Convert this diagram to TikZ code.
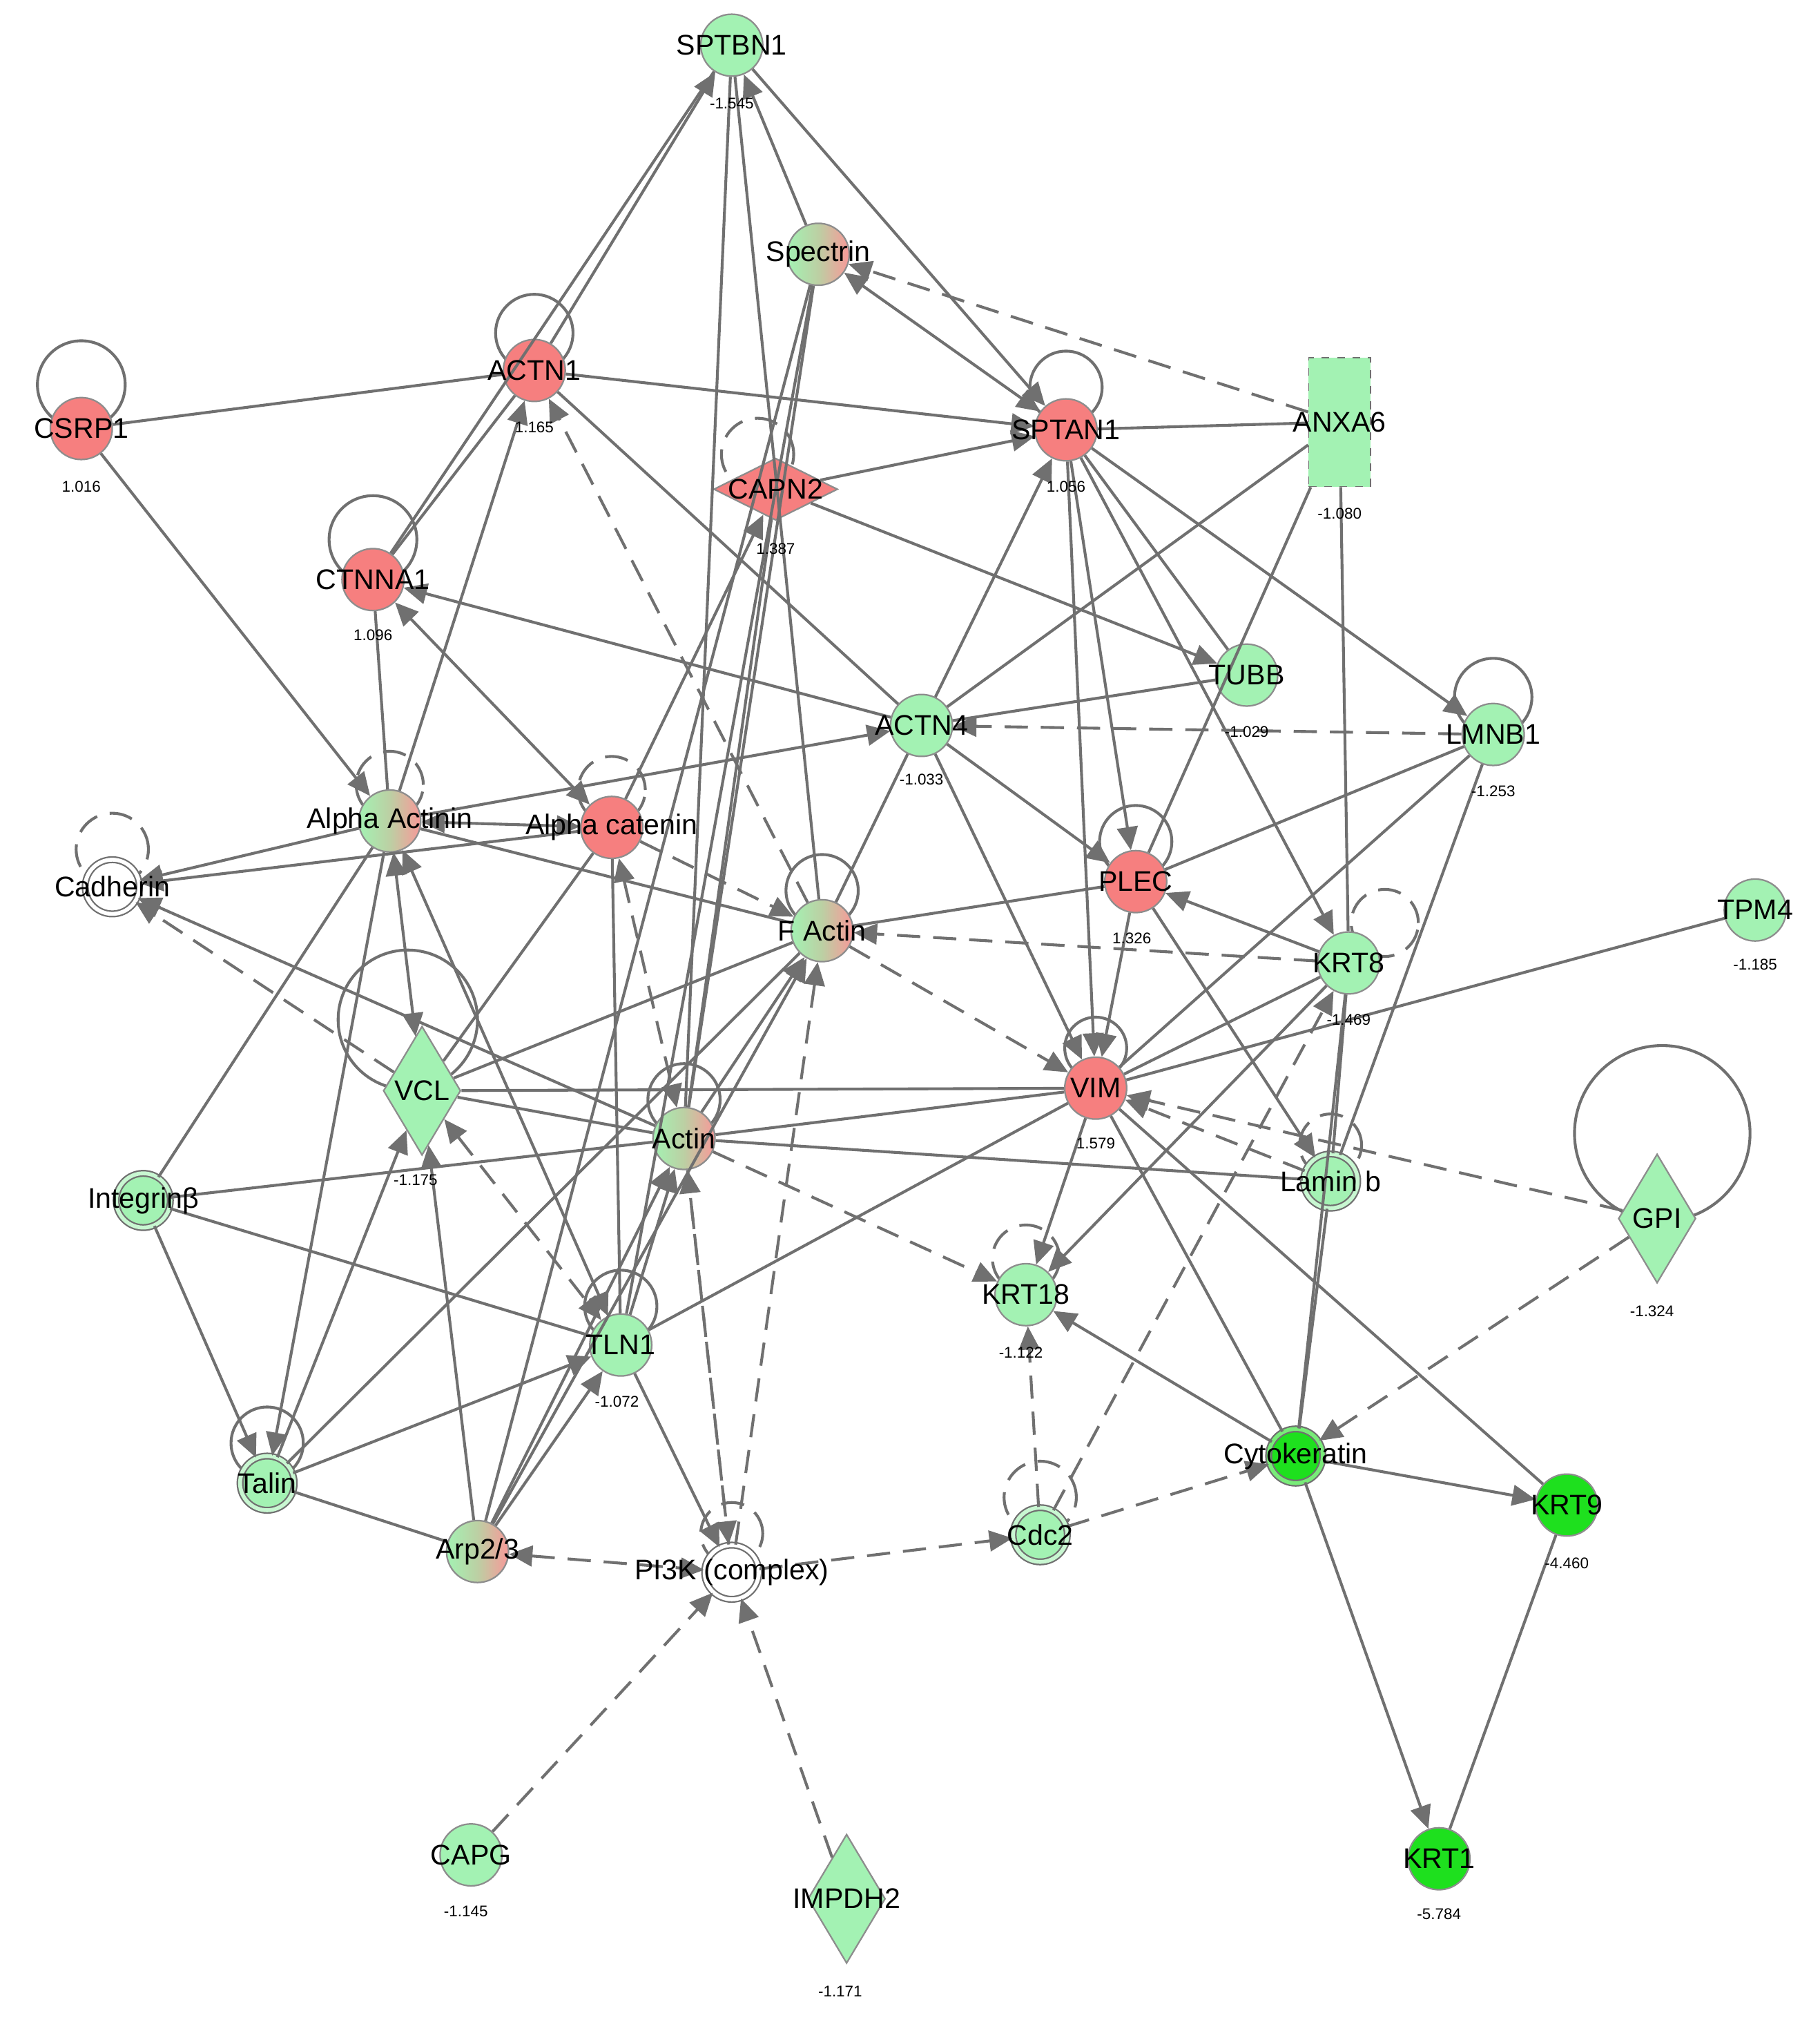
\documentclass[tikz,border=0pt]{standalone}
\usepackage{fontspec}
\setmainfont{Liberation Sans}
\usetikzlibrary{arrows.meta,shapes.geometric}
\definecolor{lg}{HTML}{A3F2B3}
\definecolor{rd}{HTML}{F67F7F}
\definecolor{bg}{HTML}{1EE01E}
\definecolor{ln}{HTML}{707070}
\tikzset{
 x=0.5pt,y=-0.5pt,
 base/.style={circle,draw=ln!80,line width=0.6pt,minimum size=24pt,inner sep=0pt},
 gn/.style={base,fill=lg},
 rn/.style={base,fill=rd},
 bn/.style={base,fill=bg},
 mx/.style={base,left color=lg,right color=rd!80,middle color=lg!70!rd},
 wn/.style={base,fill=white,double=white,draw=ln,double distance=1.5pt,minimum size=21pt},
 gd/.style={wn,fill=lg,double=lg!60!white},
 bd/.style={wn,fill=bg,double=bg!60!white},
 dia/.style={diamond,draw=ln!80,line width=0.6pt,inner sep=0pt,minimum width=30pt,minimum height=50pt,aspect=0.6},
 lab/.style={font=\fontsize{11}{11}\selectfont,inner sep=0pt},
 val/.style={font=\fontsize{6}{6}\selectfont,inner sep=0pt},
 e/.style={draw=ln,line width=1.1pt},
 ea/.style={e,-{Triangle[length=9pt,width=8pt]}},
 eb/.style={e,{Triangle[length=9pt,width=8pt]}-{Triangle[length=9pt,width=8pt]}},
 ed/.style={e,dash pattern=on 9pt off 5pt},
 eda/.style={ed,-{Triangle[length=9pt,width=8pt]}},
 edb/.style={ed,{Triangle[length=9pt,width=8pt]}-{Triangle[length=9pt,width=8pt]}},
}
\begin{document}
\begin{tikzpicture}
\useasboundingbox[fill=white] (0,0) rectangle (1410,1575);
% self loops
\foreach \x/\y/\r/\st in {63/298/17/e,414/258/15/e,289/418/17/e,826/300/14/e,587/352/14/ed,
 1157/540/15/e,302/608/13/ed,474/612/13/ed,87/658/14/ed,880/652/14/e,637/690/14/e,
 1073/715/13/ed,316/790/27/e,849/812/12/e,530/852/14/e,1031/887/12/ed,1288/878/34/e,
 795/975/13/ed,481/1012/14/e,207/1118/14/e,567/1188/12/ed,806/1160/14/ed}{
 \draw[\st] (\x,\y) circle[radius=\r pt];}
% nodes
\node[gn] (SPTBN1) at (567,35) {};
\node[mx] (Spectrin) at (634,197) {};
\node[rn] (ACTN1) at (414,287) {};
\node[rn] (CSRP1) at (63,332) {};
\node[rn] (SPTAN1) at (826,333) {};
\node[rectangle,draw=ln,dashed,fill=lg,minimum width=24pt,minimum height=50pt,inner sep=0pt] (ANXA6) at (1038,327) {};
\node[dia,fill=rd,minimum width=48pt,minimum height=24pt,aspect=2] (CAPN2) at (601,379) {};
\node[rn] (CTNNA1) at (289,449) {};
\node[gn] (TUBB) at (966,523) {};
\node[gn] (ACTN4) at (714,562) {};
\node[gn] (LMNB1) at (1157,569) {};
\node[mx] (AA) at (302,636) {};
\node[rn] (AC) at (474,641) {};
\node[wn] (Cadherin) at (87,687) {};
\node[rn] (PLEC) at (880,683) {};
\node[mx] (FActin) at (637,721) {};
\node[gn] (TPM4) at (1360,705) {};
\node[gn] (KRT8) at (1045,746) {};
\node[dia,fill=lg] (VCL) at (327,845) {};
\node[rn] (VIM) at (849,843) {};
\node[mx] (Actin) at (530,882) {};
\node[gd] (Integrin) at (111,930) {};
\node[gd] (Laminb) at (1031,915) {};
\node[dia,fill=lg] (GPI) at (1284,944) {};
\node[gn] (KRT18) at (795,1003) {};
\node[gn] (TLN1) at (481,1042) {};
\node[gd] (Talin) at (207,1149) {};
\node[bd] (Cytokeratin) at (1004,1128) {};
\node[bn] (KRT9) at (1214,1166) {};
\node[mx] (Arp) at (370,1202) {};
\node[wn] (PI3K) at (567,1218) {};
\node[gd] (Cdc2) at (806,1189) {};
\node[gn] (CAPG) at (365,1437) {};
\node[dia,fill=lg] (IMPDH2) at (656,1471) {};
\node[bn] (KRT1) at (1115,1440) {};
% edges
\foreach \a/\b/\st in {
 CSRP1/ACTN1/e, CSRP1/AA/ea, ACTN1/SPTBN1/ea, CTNNA1/SPTBN1/e, ACTN1/SPTAN1/ea, ACTN1/ACTN4/e,
 AA/ACTN1/ea, CTNNA1/ACTN1/e, ACTN4/CTNNA1/ea, CTNNA1/AA/e, AC/CTNNA1/eb,
 Spectrin/SPTBN1/ea, SPTBN1/SPTAN1/ea, Actin/SPTBN1/e, FActin/SPTBN1/e, Spectrin/SPTAN1/eb,
 ANXA6/Spectrin/eda, Spectrin/Actin/e, Spectrin/Arp/e, Spectrin/TLN1/e, CAPN2/SPTAN1/ea, CAPN2/TUBB/ea,
 CAPN2/Actin/e, SPTAN1/ANXA6/e, SPTAN1/LMNB1/ea, SPTAN1/VIM/ea, SPTAN1/PLEC/ea, SPTAN1/KRT8/ea,
 SPTAN1/TUBB/e, ACTN4/SPTAN1/ea, AC/CAPN2/ea, ANXA6/ACTN4/e, ANXA6/PLEC/e, ANXA6/KRT8/e,
 TUBB/ACTN4/e, LMNB1/ACTN4/eda, ACTN4/PLEC/ea, ACTN4/VIM/ea, ACTN4/FActin/e, LMNB1/PLEC/e,
 LMNB1/Laminb/e, LMNB1/VIM/e, AA/ACTN4/ea, AA/AC/eb, AA/Cadherin/ea, AC/Cadherin/ea, AA/FActin/e,
 AC/FActin/eda, AA/VCL/eb, AA/TLN1/eb, AA/Integrin/e, AC/VCL/e, AC/TLN1/e, AC/Actin/edb,
 VCL/Cadherin/eda, Actin/Cadherin/ea, FActin/PLEC/e, KRT8/FActin/eda, FActin/VIM/eda, FActin/VCL/e,
 KRT8/PLEC/ea, PLEC/Laminb/ea, VIM/KRT18/ea, VIM/TPM4/e, VIM/VCL/e, VIM/Actin/e, VIM/KRT8/e,
 VIM/Cytokeratin/e, VIM/KRT9/e, GPI/VIM/eda, VIM/TLN1/e, PLEC/VIM/ea, KRT8/KRT18/ea, Cdc2/KRT8/eda,
 Cytokeratin/KRT8/e, VCL/Actin/e, VCL/TLN1/edb, Arp/VCL/ea, Talin/VCL/ea, Actin/Integrin/e,
 Actin/KRT18/eda, Actin/Laminb/e, Actin/FActin/ea, Integrin/Talin/ea, Integrin/TLN1/e,
 Laminb/Cytokeratin/e, GPI/Cytokeratin/eda, Cdc2/KRT18/eda, Cytokeratin/KRT18/ea, TLN1/Actin/ea,
 TLN1/PI3K/ea, Talin/TLN1/ea, Arp/TLN1/ea, Talin/Arp/e, Talin/FActin/e, Arp/PI3K/edb, PI3K/Actin/eda,
 PI3K/FActin/eda, PI3K/Cdc2/eda, Cdc2/Cytokeratin/eda, CAPG/PI3K/eda, IMPDH2/PI3K/eda,
 Cytokeratin/KRT9/ea, Cytokeratin/KRT1/ea, KRT9/KRT1/e, AA/Talin/ea, Arp/Actin/ea, Arp/FActin/ea,
 FActin/ACTN1/eda, Actin/PI3K/eda, Laminb/VIM/eda, KRT8/Laminb/e}{
 \path[\st] (\a) -- (\b);}
% labels
\foreach \n/\t in {SPTBN1/SPTBN1,Spectrin/Spectrin,ACTN1/ACTN1,CSRP1/CSRP1,SPTAN1/SPTAN1,ANXA6/ANXA6,
 CAPN2/CAPN2,CTNNA1/CTNNA1,TUBB/TUBB,ACTN4/ACTN4,LMNB1/LMNB1,AA/Alpha Actinin,AC/Alpha catenin,
 Cadherin/Cadherin,PLEC/PLEC,FActin/F Actin,TPM4/TPM4,KRT8/KRT8,VCL/VCL,VIM/VIM,Actin/Actin,
 Integrin/Integrinβ,Laminb/Lamin b,GPI/GPI,KRT18/KRT18,TLN1/TLN1,Talin/Talin,Cytokeratin/Cytokeratin,
 KRT9/KRT9,Arp/{Arp2/3},PI3K/PI3K (complex),Cdc2/Cdc2,CAPG/CAPG,IMPDH2/IMPDH2,KRT1/KRT1}{
 \node[lab] (l\n) at (\n) {\t};}
\foreach \n/\x/\y/\t in {SPTBN1/567/80/-1.545,ACTN1/414/331/1.165,CSRP1/63/377/1.016,SPTAN1/826/377/1.056,
 ANXA6/1038/398/-1.080,CAPN2/601/425/1.387,CTNNA1/289/492/1.096,TUBB/966/567/-1.029,ACTN4/714/604/-1.033,
 LMNB1/1157/613/-1.253,PLEC/877/727/1.326,TPM4/1360/747/-1.185,KRT8/1045/790/-1.469,VCL/322/914/-1.175,
 VIM/849/886/1.579,GPI/1280/1016/-1.324,KRT18/791/1048/-1.122,TLN1/478/1086/-1.072,KRT9/1214/1211/-4.460,
 CAPG/361/1481/-1.145,IMPDH2/651/1543/-1.171,KRT1/1115/1483/-5.784}{
 \node[val] (v\n) at (\x,\y) {\t};}
\end{tikzpicture}
\end{document}
